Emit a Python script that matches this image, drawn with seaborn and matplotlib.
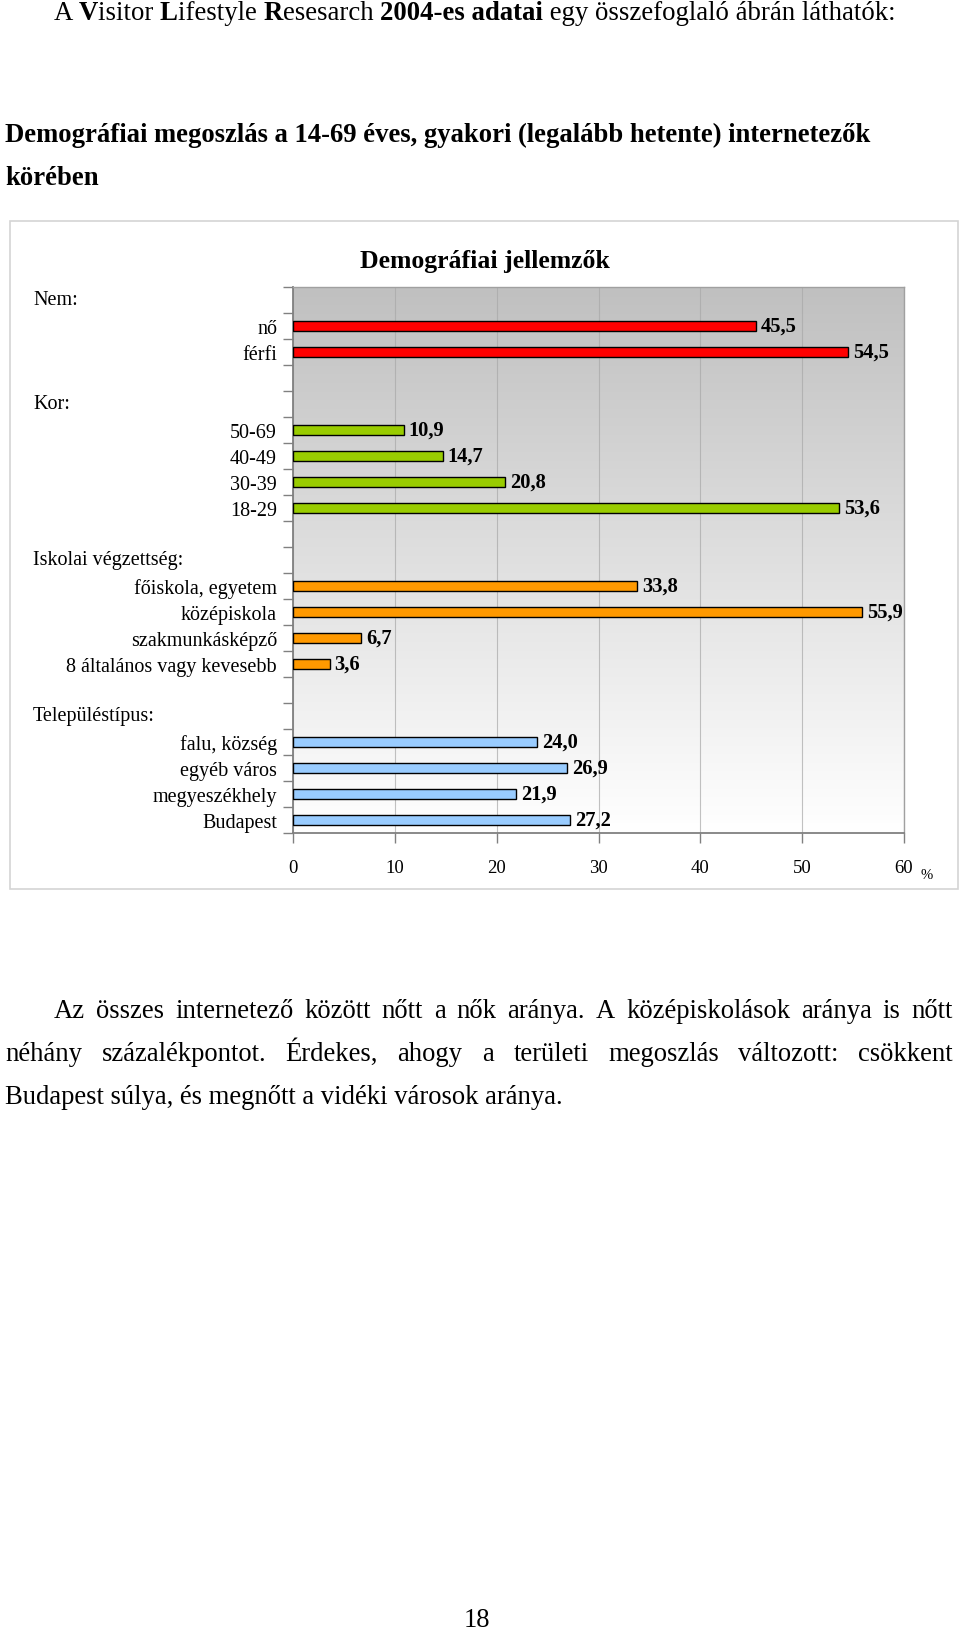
import numpy as np
import pandas as pd
import matplotlib
matplotlib.use("Agg")
import matplotlib.pyplot as plt
import seaborn as sns
from matplotlib.colors import LinearSegmentedColormap
from matplotlib.patches import Rectangle
from matplotlib.transforms import blended_transform_factory
from matplotlib.ticker import FixedLocator

# ---------------- data ----------------
group_names = ["Nem:", "Kor:", "Iskolai végzettség:", "Településtípus:"]
nem_labels = ["nő", "férfi"]
nem_values = [45.5, 54.5]
kor_labels = ["50-69", "40-49", "30-39", "18-29"]
kor_values = [10.9, 14.7, 20.8, 53.6]
isk_labels = ["főiskola, egyetem", "középiskola", "szakmunkásképző", "8 általános vagy kevesebb"]
isk_values = [33.8, 55.9, 6.7, 3.6]
tel_labels = ["falu, község", "egyéb város", "megyeszékhely", "Budapest"]
tel_values = [24.0, 26.9, 21.9, 27.2]
group_colors = ["#ff0000", "#99cc00", "#ff9900", "#99ccff"]
x_ticks = [0, 10, 20, 30, 40, 50, 60]

chart_title = "Demográfiai jellemzők"
line1_segments = [("A ", "normal"), ("V", "bold"), ("isitor ", "normal"), ("L", "bold"),
                  ("ifestyle ", "normal"), ("R", "bold"), ("esesarch ", "normal"),
                  ("2004-es adatai", "bold"), (" egy összefoglaló ábrán láthatók:", "normal")]
heading_lines = ["Demográfiai megoszlás a 14-69 éves, gyakori (legalább hetente) internetezők",
                 "körében"]
para_lines = ["Az összes internetező között nőtt a nők aránya. A középiskolások aránya is nőtt",
              "néhány százalékpontot. Érdekes, ahogy a területi megoszlás változott: csökkent",
              "Budapest súlya, és megnőtt a vidéki városok aránya."]
page_number = "18"

# ---------------- build table ----------------
groups_labels = [nem_labels, kor_labels, isk_labels, tel_labels]
groups_values = [nem_values, kor_values, isk_values, tel_values]
order, rows = [], []
for gi, (gname, labs, vals, col) in enumerate(zip(group_names, groups_labels, groups_values, group_colors)):
    order.append(gname)
    for l, v in zip(labs, vals):
        order.append(l)
        rows.append({"label": l, "value": v, "color": col})
    if gi < len(group_names) - 1:
        order.append(f"_blank{gi}")
df = pd.DataFrame(rows)
palette = dict(zip(df["label"], df["color"]))

SERIF = "Liberation Serif"
W, H = 960, 1633
fig = plt.figure(figsize=(W / 100, H / 100), dpi=100)
renderer = fig.canvas.get_renderer()


def fx(px):
    return px / W


def fy(py):
    return 1 - py / H


def text_width(s, size, weight="normal"):
    t = fig.text(0, 0, "|" + s + "|", fontsize=size, fontweight=weight, family=SERIF)
    w1 = t.get_window_extent(renderer).width
    t.set_text("||")
    w0 = t.get_window_extent(renderer).width
    t.remove()
    return w1 - w0


def fit_size(s, target, weight="normal", base=16):
    return base * target / text_width(s, base, weight)


# ---------------- chart ----------------
ax_l, ax_r, ax_t, ax_b = 293, 904, 288, 834
ax = fig.add_axes([fx(ax_l), fy(ax_b), fx(ax_r) - fx(ax_l), (ax_b - ax_t) / H])

grad = np.linspace(0, 1, 256)[:, None]
cmap = LinearSegmentedColormap.from_list("bg", ["#c0c0c0", "#ffffff"])
ax.imshow(grad, extent=[0, 60, len(order) - 0.5, -0.5], aspect="auto", cmap=cmap,
          origin="upper", zorder=0, interpolation="bilinear")

sns.barplot(data=df, y="label", x="value", hue="label", order=order, palette=palette,
            saturation=1, legend=False, width=0.42, edgecolor="black", linewidth=1.0,
            ax=ax, zorder=3)

ax.set_xlim(0, 60)
ax.set_ylim(len(order) - 0.5, -0.5)
ax.set_xlabel("")
ax.set_ylabel("")
ax.set_axisbelow(True)
ax.grid(axis="x", color="#a8a8a8", lw=0.8, alpha=0.7, zorder=0.5)
ax.grid(axis="y", visible=False)

ax.set_xticks(x_ticks)
ax.set_xticklabels([str(t) for t in x_ticks], family=SERIF, fontsize=13.5)
ax.tick_params(axis="x", length=7, width=1, color="#808080", pad=12)

ytl = ["" if (o in group_names or o.startswith("_blank")) else o for o in order]
ax.set_yticks(range(len(order)))
ax.set_yticklabels(ytl, family=SERIF, fontsize=14.5)
ax.tick_params(axis="y", which="major", length=0, pad=11.5)
ax.yaxis.set_minor_locator(FixedLocator(np.arange(-0.5, len(order), 1.0)))
ax.tick_params(axis="y", which="minor", length=7, width=1, color="#808080", direction="out")

for s in ["left", "bottom"]:
    ax.spines[s].set_color("#808080")
    ax.spines[s].set_linewidth(1.3)
for s in ["top", "right"]:
    ax.spines[s].set_color("#a0a0a0")
    ax.spines[s].set_linewidth(1.0)

# value labels
for _, r in df.iterrows():
    yi = order.index(r["label"])
    ax.annotate(f"{r['value']:.1f}".replace(".", ","), xy=(r["value"], yi), xytext=(3.5, 0),
                textcoords="offset points", va="center", ha="left", fontsize=14.8,
                fontweight="bold", family=SERIF, zorder=5)

# group headers
btr = blended_transform_factory(fig.transFigure, ax.transData)
for g in group_names:
    ax.text(fx(33), order.index(g), g, transform=btr, ha="left", va="center",
            fontsize=14.5, family=SERIF)

# percent sign
fig.text(fx(927), fy(879), "%", ha="center", va="baseline", fontsize=10.5, family=SERIF)

# chart title
ts = fit_size(chart_title, 251, "bold")
fig.text(fx(485), fy(268), chart_title, ha="center", va="baseline", fontsize=ts,
         fontweight="bold", family=SERIF)

# chart frame
fig.add_artist(Rectangle((fx(10), fy(890)), fx(958) - fx(10), (890 - 222) / H,
                         transform=fig.transFigure, fill=False, edgecolor="#d4d4d4", lw=1.2))

# ---------------- page text ----------------
base = 16
tot = sum(text_width(s, base, w) for s, w in line1_segments)
s1 = base * (893 - 54) / tot
x = 54
for s, w in line1_segments:
    fig.text(fx(x), fy(20), s, ha="left", va="baseline", fontsize=s1, fontweight=w, family=SERIF)
    x += text_width(s, s1, w)

hs = fit_size(heading_lines[0], 867, "bold")
fig.text(fx(5), fy(142.5), heading_lines[0], ha="left", va="baseline", fontsize=hs,
         fontweight="bold", family=SERIF)
fig.text(fx(5), fy(185), heading_lines[1], ha="left", va="baseline", fontsize=hs,
         fontweight="bold", family=SERIF)

ps = fit_size(para_lines[2], 557)


def justify(line, x0, x1, ybase, size):
    words = line.split(" ")
    widths = [text_width(w_, size) for w_ in words]
    gap = (x1 - x0 - sum(widths)) / (len(words) - 1)
    xx = x0
    for w_, wd in zip(words, widths):
        fig.text(fx(xx), fy(ybase), w_, ha="left", va="baseline", fontsize=size, family=SERIF)
        xx += wd + gap


justify(para_lines[0], 54, 953, 1018, ps)
justify(para_lines[1], 5, 953, 1061, ps)
fig.text(fx(5), fy(1104), para_lines[2], ha="left", va="baseline", fontsize=ps, family=SERIF)

fig.text(fx(477), fy(1627), page_number, ha="center", va="baseline", fontsize=ps, family=SERIF)

fig.savefig("out.png", dpi=100)
